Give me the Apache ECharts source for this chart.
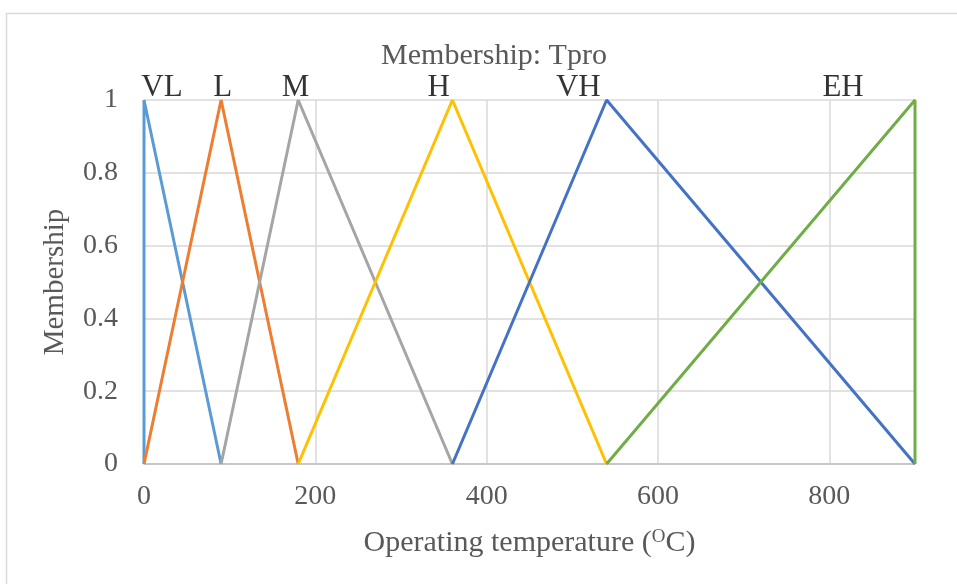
<!DOCTYPE html>
<html>
<head>
<meta charset="utf-8">
<script src="https://cdn.jsdelivr.net/npm/echarts@6/dist/echarts.min.js"></script>
<style>html,body{margin:0;padding:0;background:#fff}#c{width:957px;height:584px}</style>
</head>
<body>
<div id="c"></div>
<script>
// Membership functions (x = operating temperature, y = membership)
const VL = [[0, 0], [0, 1], [90, 0]];
const L  = [[0, 0], [90, 1], [180, 0]];
const M  = [[90, 0], [180, 1], [360, 0]];
const H  = [[180, 0], [360, 1], [540, 0]];
const VH = [[360, 0], [540, 1], [900, 0]];
const EH = [[540, 0], [900, 1], [900, 0]];
const seriesNames = ['VL', 'L', 'M', 'H', 'VH', 'EH'];
const seriesData = [VL, L, M, H, VH, EH];
const colors = ['#5B9BD5', '#ED7D31', '#A5A5A5', '#FFC000', '#4472C4', '#70AD47'];
// label anchor positions (x in °C, at membership 1)
const labelX = [21, 92, 177, 344, 507, 816];
const xTicks = [0, 200, 400, 600, 800];
const yTicks = [0, 0.2, 0.4, 0.6, 0.8, 1];

const font = '"Liberation Serif", "Times New Roman", serif';
const chart = echarts.init(document.getElementById('c'));

const lineSeries = seriesNames.map((n, i) => ({
  name: n,
  type: 'line',
  data: seriesData[i],
  symbol: 'none',
  clip: false,
  lineStyle: { color: colors[i], width: 3 },
  z: 3 + i
}));

const labelSeries = {
  type: 'scatter',
  symbolSize: 0,
  silent: true,
  data: labelX.map((x, i) => ({ value: [x, 1], name: seriesNames[i] })),
  label: {
    show: true,
    position: 'top',
    distance: -3,
    formatter: p => p.name,
    color: '#000',
    fontFamily: font,
    fontSize: 31
  },
  z: 10
};

chart.setOption({
  animation: false,
  backgroundColor: '#fff',
  title: {
    text: 'Membership: Tpro',
    left: 489, textAlign: 'center',
    top: 36,
    textStyle: { color: '#595959', fontFamily: font, fontSize: 30, fontWeight: 'normal' }
  },
  graphic: [{
    type: 'rect',
    shape: { x: 6.5, y: 13.5, width: 1000, height: 1000 },
    style: { fill: 'none', stroke: '#d9d9d9', lineWidth: 1.5 },
    silent: true
  }],
  grid: { left: 144, right: 42, top: 100, bottom: 120 },
  xAxis: {
    type: 'value',
    min: 0, max: 900, interval: 200,
    axisLine: { show: true, lineStyle: { color: '#bfbfbf', width: 1.5 } },
    axisTick: { show: false },
    splitLine: { show: true, lineStyle: { color: '#d9d9d9', width: 1.5 } },
    axisLabel: {
      color: '#595959', fontFamily: font, fontSize: 28, margin: 19,
      formatter: v => (xTicks.indexOf(v) >= 0 ? String(v) : '')
    },
    name: '{a|Operating temperature (}{s|O}{a|C)}',
    nameLocation: 'middle',
    nameGap: 64,
    nameTextStyle: {
      rich: {
        a: { color: '#595959', fontFamily: font, fontSize: 30 },
        s: { color: '#595959', fontFamily: font, fontSize: 19, verticalAlign: 'top', padding: [0, 0, 12, 0] }
      }
    }
  },
  yAxis: {
    type: 'value',
    min: 0, max: 1, interval: 0.2,
    axisLine: { show: false },
    axisTick: { show: false },
    splitLine: { show: true, lineStyle: { color: '#d9d9d9', width: 1.5 } },
    axisLabel: {
      color: '#595959', fontFamily: font, fontSize: 28, margin: 26,
      formatter: v => {
        const t = yTicks.find(y => Math.abs(y - v) < 1e-9);
        return t === undefined ? '' : String(t);
      }
    },
    name: 'Membership',
    nameLocation: 'middle',
    nameGap: 74,
    nameTextStyle: { color: '#595959', fontFamily: font, fontSize: 29 }
  },
  series: [...lineSeries, labelSeries]
});
</script>
</body>
</html>
